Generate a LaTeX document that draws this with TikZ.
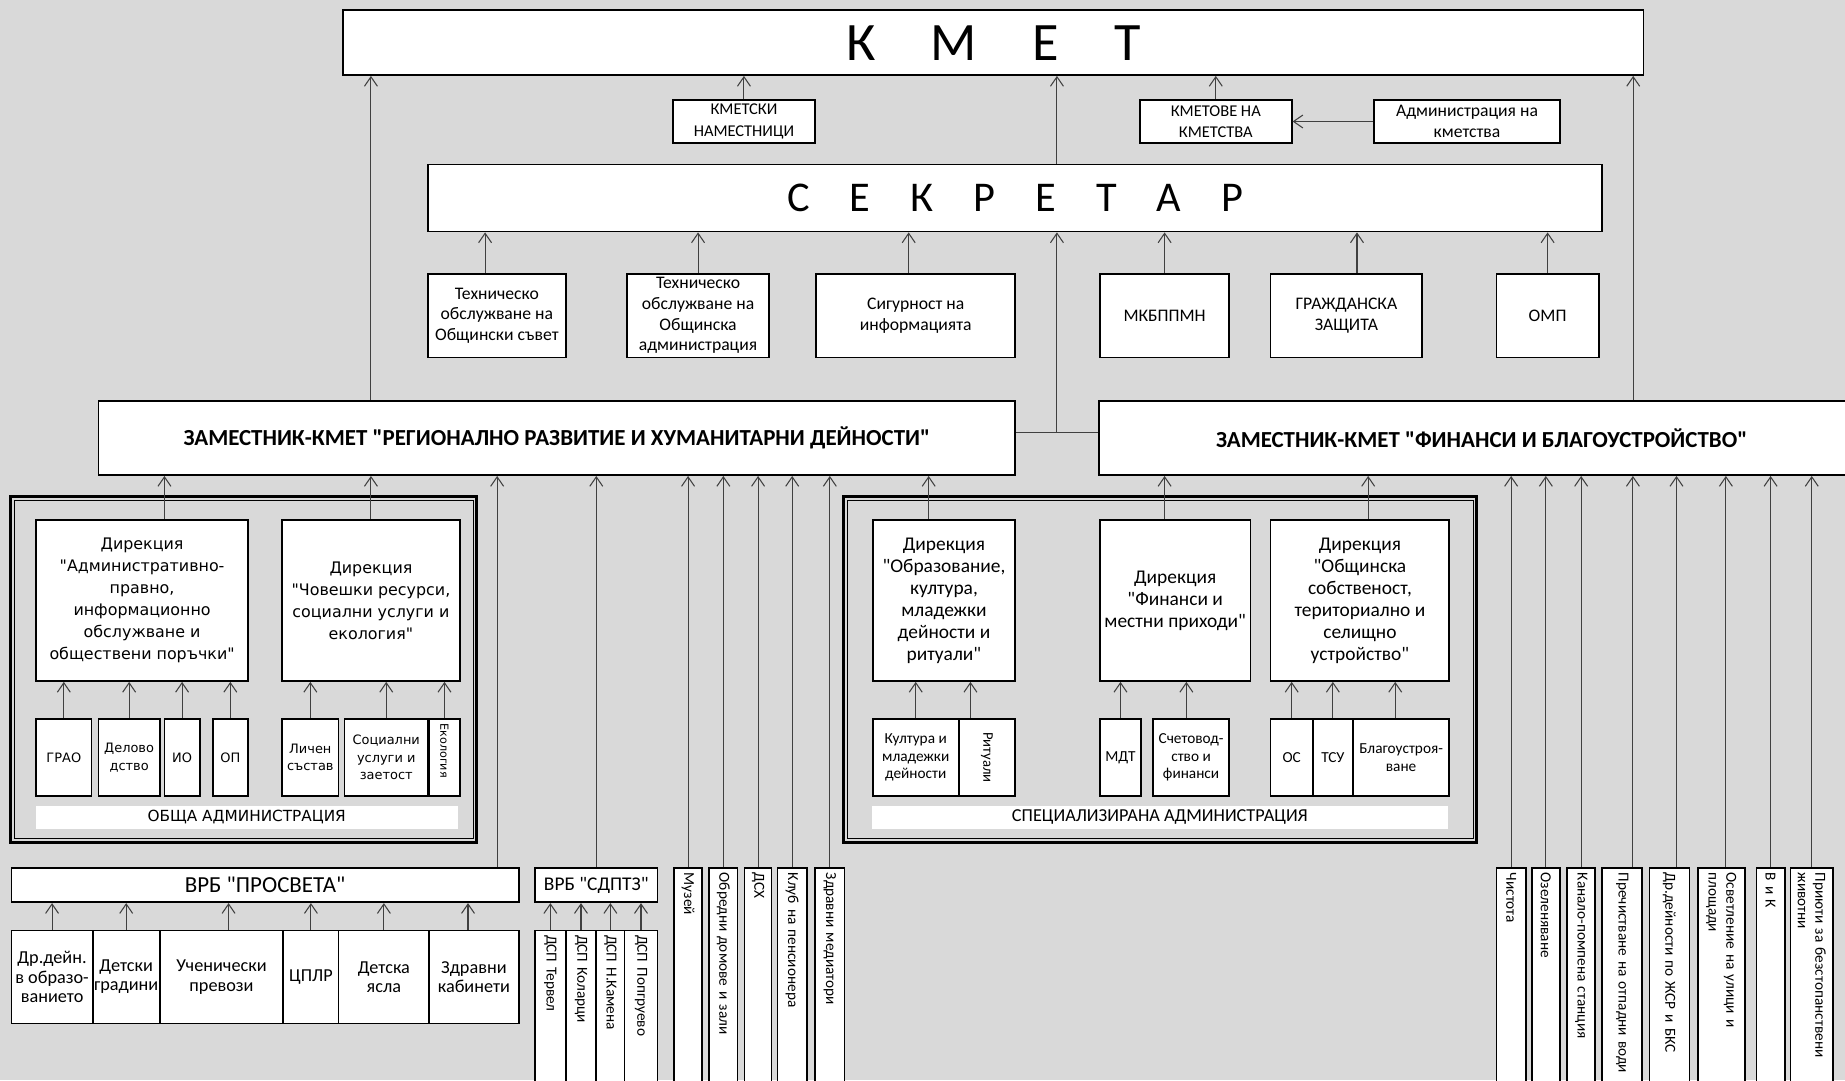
\documentclass[tikz,border=0pt]{standalone}
\usepackage{fontspec}
\setmainfont{Carlito}[Ligatures=TeXOff]
\newfontfamily\verd{DejaVu Sans}[Ligatures=TeXOff]
\usetikzlibrary{calc}
\usetikzlibrary{arrows.meta}
\tikzset{
   wh/.style 2 args={minimum width=#1pt, minimum height=#2pt},
   box/.style={draw=black, line width=1.5pt, fill=white, align=center,
      inner sep=0pt, anchor=north west},
   vbox/.style={draw=black, line width=1.5pt, fill=white, rotate=-90,
      anchor=south west, align=left, inner xsep=4pt, inner ysep=0pt,
      text width=200pt, font=\fontsize{13}{15}\selectfont},
   band/.style={fill=white, inner sep=0pt, anchor=north west},
   link/.style={draw=black!75, line width=0.9pt,
      -{Straight Barb[length=8pt,width=11pt]}},
   tline/.style={draw=black!75, line width=0.9pt},
   fkmet/.style={font=\fontsize{46}{50}\selectfont},
   fsekr/.style={font=\fontsize{36}{40}\selectfont},
   fkm/.style={font=\fontsize{14}{18}\selectfont},
   fsec/.style={font=\fontsize{15}{17.5}\selectfont},
   fzam/.style={font=\bfseries\fontsize{19.5}{22}\selectfont},
   fdirv/.style={font=\verd\fontsize{13.5}{18.7}\selectfont},
   fsmv/.style={font=\verd\fontsize{11}{15}\selectfont},
   fdir/.style={font=\fontsize{16.5}{18.7}\selectfont},
   fsm/.style={font=\fontsize{13}{15}\selectfont},
   fvrb/.style={font=\fontsize{19.5}{22}\selectfont},
   fvsub/.style={font=\fontsize{15.5}{16.5}\selectfont},
}
\begin{document}
\begin{tikzpicture}[x=1pt,y=-1pt]
\useasboundingbox (0,0) rectangle (1568,918);
\clip (0,0) rectangle (1568,918);
\fill[black!15] (0,0) rectangle (1568,918);

\node[box, wh={1105}{55}, fkmet] (kmet) at (291,8) {К\hspace{47pt}М\hspace{47pt}Е\hspace{47pt}Т};
\node[box, wh={121}{37}, fkm] (kmnam) at (571,84) {КМЕТСКИ\\НАМЕСТНИЦИ};
\node[box, wh={129}{37}, fkm] (kmkm) at (968,84) {КМЕТОВЕ НА\\КМЕТСТВА};
\node[box, wh={158}{37}, font=\fontsize{15}{18}\selectfont] (adkm) at (1167,84) {Администрация на\\кметства};
\node[box, wh={998}{57}, fsekr] (sekr) at (363,139) {С\hspace{34pt}Е\hspace{34pt}К\hspace{34pt}Р\hspace{34pt}Е\hspace{34pt}Т\hspace{34pt}А\hspace{34pt}Р};

\node[box, wh={117}{71}, fsec] (tos) at (363,232) {Техническо\\обслужване на\\Общински съвет};
\node[box, wh={121}{71}, fsec] (toa) at (532,232) {Техническо\\обслужване на\\Общинска\\администрация};
\node[box, wh={169}{71}, fsec] (sig) at (693,232) {Сигурност на\\информацията};
\node[box, wh={110}{71}, fsec] (mkb) at (934,232) {МКБППМН};
\node[box, wh={129}{71}, fsec] (grz) at (1079,232) {ГРАЖДАНСКА\\ЗАЩИТА};
\node[box, wh={87}{71}, fsec] (omp) at (1271,232) {ОМП};

\node[box, wh={779}{63}, fzam] (zkl) at (83,340) {ЗАМЕСТНИК-КМЕТ "РЕГИОНАЛНО РАЗВИТИЕ И ХУМАНИТАРНИ ДЕЙНОСТИ"};
\node[box, wh={651}{63}, fzam] (zkr) at (933,340) {ЗАМЕСТНИК-КМЕТ "ФИНАНСИ И БЛАГОУСТРОЙСТВО"};

% обща администрация
\draw[line width=2.6pt] (9,422) rectangle (405,716);
\draw[line width=0.8pt] (12,425) rectangle (402,713);
\node[box, wh={180}{137}, fdirv] (dap) at (30,441) {Дирекция\\"Административно-\\правно,\\информационно\\обслужване и\\обществени поръчки"};
\node[box, wh={151}{137}, fdirv] (dcr) at (239,441) {Дирекция\\"Човешки ресурси,\\социални услуги и\\екология"};
\node[box, wh={47}{66}, fsmv] (grao) at (30,610) {ГРАО};
\node[box, wh={52}{66}, fsmv] (delo) at (83,610) {Делово\\дство};
\node[box, wh={30}{66}, fsmv] (io) at (139,610) {ИО};
\node[box, wh={30}{66}, fsmv] (op) at (180,610) {ОП};
\node[box, wh={48}{66}, fsmv] (lichen) at (239,610) {Личен\\състав};
\node[box, wh={71}{66}, fsmv] (soc) at (292,610) {Социални\\услуги и\\заетост};
\node[vbox, text width=58pt, minimum height=26pt, font=\verd\fontsize{9.5}{11}\selectfont] (ekol) at (364,610) {Екология};
\node[band, wh={359}{19}, font=\verd\fontsize{13}{15}\selectfont] (obshta) at (30,685) {ОБЩА АДМИНИСТРАЦИЯ};

% специализирана администрация
\draw[line width=2.6pt] (717,422) rectangle (1255,716);
\draw[line width=0.8pt] (720,425) rectangle (1252,713);
\node[box, wh={121}{137}, fdir] (dobr) at (741,441) {Дирекция\\"Образование,\\култура,\\младежки\\дейности и\\ритуали"};
\node[box, wh={128}{137}, fdir] (dfin) at (934,441) {Дирекция\\"Финанси и\\местни приходи"};
\node[box, wh={152}{137}, fdir] (dos) at (1079,441) {Дирекция\\"Общинска\\собственост,\\териториално и\\селищно\\устройство"};
\node[box, wh={73}{66}, fsm] (kult) at (741,610) {Култура и\\младежки\\дейности};
\node[vbox, text width=58pt, minimum height=48pt, align=center, font=\fontsize{12.5}{14}\selectfont] (rit) at (814,610) {Ритуали};
\node[box, wh={35}{66}, fsm] (mdt) at (934,610) {МДТ};
\node[box, wh={65}{66}, fsm] (schet) at (979,610) {Счетовод-\\ство и\\финанси};
\node[box, wh={36}{66}, fsm] (os) at (1079,610) {ОС};
\node[box, wh={34}{66}, fsm] (tsu) at (1115,610) {ТСУ};
\node[box, wh={82}{66}, fsm] (blag) at (1149,610) {Благоустроя-\\ване};
\node[band, wh={489}{19}, font=\fontsize{15.5}{17}\selectfont] (spec) at (741,685) {СПЕЦИАЛИЗИРАНА АДМИНИСТРАЦИЯ};

% второстепенни разпоредители
\node[box, wh={431}{29}, fvrb] (vrbp) at (9,737) {ВРБ "ПРОСВЕТА"};
\node[box, wh={104}{29}, font=\fontsize{16.5}{18}\selectfont] (vrbs) at (454,737) {ВРБ "СДПТЗ"};
\node[box, wh={69}{79}, fvsub] (drd) at (9,790) {Др.дейн.\\в образо-\\ванието};
\node[box, wh={57}{79}, fvsub] (detg) at (78,790) {Детски\\градини};
\node[box, wh={105}{79}, fvsub] (uch) at (135,790) {Ученически\\превози};
\node[box, wh={47}{79}, fvsub] (cplr) at (240,790) {ЦПЛР};
\node[box, wh={77}{79}, fvsub] (dya) at (287,790) {Детска\\ясла};
\node[box, wh={76}{79}, fvsub] (zdk) at (364,790) {Здравни\\кабинети};
\node[vbox, minimum height=26pt] (dsp1) at (454,790) {ДСП Тервел};
\node[vbox, minimum height=26pt] (dsp2) at (480,790) {ДСП Коларци};
\node[vbox, minimum height=24pt] (dsp3) at (506,790) {ДСП Н.Камена};
\node[vbox, minimum height=28pt] (dsp4) at (530,790) {ДСП Попгруево};
\node[vbox, minimum height=24pt] (muz) at (572,737) {Музей};
\node[vbox, minimum height=24pt] (obr) at (602,737) {Обредни домове и зали};
\node[vbox, minimum height=23pt] (dsx) at (632,737) {ДСХ};
\node[vbox, minimum height=25pt] (klub) at (660,737) {Клуб на пенсионера};
\node[vbox, minimum height=25pt] (zdm) at (692,737) {Здравни медиатори};
\node[vbox, minimum height=25pt] (chist) at (1271,737) {Чистота};
\node[vbox, minimum height=24pt] (ozel) at (1301,737) {Озеленяване};
\node[vbox, minimum height=24pt] (kanal) at (1331,737) {Канало-помпена станция};
\node[vbox, minimum height=34pt] (prech) at (1361,737) {Пречистване на отпадни води};
\node[vbox, minimum height=34pt] (drjsr) at (1401,737) {Др.дейности по ЖСР и БКС};
\node[vbox, minimum height=40pt] (osv) at (1442,737) {Осветление на улици и\\площади};
\node[vbox, minimum height=24pt] (vik) at (1492,737) {В и К};
\node[vbox, minimum height=36pt] (priut) at (1521,737) {Приюти за безстопанствени\\животни};

% връзки
\draw[link] (zkl.north -| dcr.north) -- (kmet.south -| dcr.north);
\coordinate (zr) at ([xshift=455pt]zkr.north west);
\draw[link] (zr) -- (zr |- kmet.south);
\draw[link] (kmnam.north) -- (kmnam.north |- kmet.south);
\draw[link] (kmkm.north) -- (kmkm.north |- kmet.south);
\draw[link] (adkm.west) -- (kmkm.east);
\coordinate (jl) at ([yshift=4.5pt]zkl.east);
\coordinate (jr) at ([yshift=4.5pt]zkr.west);
\coordinate (jn) at ($(jl)!0.5!(jr)$);
\draw[tline] (jl) -- (jr);
\draw[link] (jn) -- (jn |- sekr.south);
\draw[link] (jn |- sekr.north) -- (jn |- kmet.south);

\draw[link] ($(tos.north)+(-10,0)$) -- ($(tos.north |- sekr.south)+(-10,0)$);
\draw[link] (toa.north) -- (toa.north |- sekr.south);
\draw[link] ($(sig.north)+(-6,0)$) -- ($(sig.north |- sekr.south)+(-6,0)$);
\draw[link] (mkb.north) -- (mkb.north |- sekr.south);
\draw[link] ($(grz.north)+(9,0)$) -- ($(grz.north |- sekr.south)+(9,0)$);
\draw[link] (omp.north) -- (omp.north |- sekr.south);

\draw[link] ($(dap.north)+(19,0)$) -- ($(dap.north |- zkl.south)+(19,0)$);
\draw[link] (dcr.north) -- (dcr.north |- zkl.south);
\draw[link] ($(dobr.north)+(-13,0)$) -- ($(dobr.north |- zkl.south)+(-13,0)$);
\draw[link] ($(dfin.north)+(-9,0)$) -- ($(dfin.north |- zkr.south)+(-9,0)$);
\draw[link] ($(dos.north)+(7,0)$) -- ($(dos.north |- zkr.south)+(7,0)$);

\draw[link] (grao.north) -- (grao.north |- dap.south);
\draw[link] (delo.north) -- (delo.north |- dap.south);
\draw[link] (io.north) -- (io.north |- dap.south);
\draw[link] (op.north) -- (op.north |- dap.south);
\draw[link] (lichen.north) -- (lichen.north |- dcr.south);
\draw[link] (soc.north) -- (soc.north |- dcr.south);
\draw[link] (ekol.west) -- (ekol.west |- dcr.south);
\draw[link] (kult.north) -- (kult.north |- dobr.south);
\draw[link] ($(rit.west)+(-14,0)$) -- ($(rit.west |- dobr.south)+(-14,0)$);
\draw[link] (mdt.north) -- (mdt.north |- dfin.south);
\draw[link] ($(schet.north)+(-4,0)$) -- ($(schet.north |- dfin.south)+(-4,0)$);
\draw[link] (os.north) -- (os.north |- dos.south);
\draw[link] (tsu.north) -- (tsu.north |- dos.south);
\draw[link] ($(blag.north)+(-5,0)$) -- ($(blag.north |- dos.south)+(-5,0)$);

\coordinate (vp) at ([xshift=-19pt]vrbp.north east);
\draw[link] (vp) -- (vp |- zkl.south);
\draw[link] (vrbs.north) -- (vrbs.north |- zkl.south);
\draw[link] (drd.north) -- (drd.north |- vrbp.south);
\draw[link] (detg.north) -- (detg.north |- vrbp.south);
\draw[link] ($(uch.north)+(6,0)$) -- ($(uch.north |- vrbp.south)+(6,0)$);
\draw[link] (cplr.north) -- (cplr.north |- vrbp.south);
\draw[link] (dya.north) -- (dya.north |- vrbp.south);
\draw[link] ($(zdk.north)+(-5,0)$) -- ($(zdk.north |- vrbp.south)+(-5,0)$);
\draw[link] (dsp1.west) -- (dsp1.west |- vrbs.south);
\draw[link] (dsp2.west) -- (dsp2.west |- vrbs.south);
\draw[link] (dsp3.west) -- (dsp3.west |- vrbs.south);
\draw[link] (dsp4.west) -- (dsp4.west |- vrbs.south);
\draw[link] (muz.west) -- (muz.west |- zkl.south);
\draw[link] (obr.west) -- (obr.west |- zkl.south);
\draw[link] (dsx.west) -- (dsx.west |- zkl.south);
\draw[link] (klub.west) -- (klub.west |- zkl.south);
\draw[link] (zdm.west) -- (zdm.west |- zkl.south);
\draw[link] (chist.west) -- (chist.west |- zkr.south);
\draw[link] (ozel.west) -- (ozel.west |- zkr.south);
\draw[link] (kanal.west) -- (kanal.west |- zkr.south);
\draw[link] ($(prech.west)+(9,0)$) -- ($(prech.west |- zkr.south)+(9,0)$);
\draw[link] ($(drjsr.west)+(6,0)$) -- ($(drjsr.west |- zkr.south)+(6,0)$);
\draw[link] ($(osv.west)+(4,0)$) -- ($(osv.west |- zkr.south)+(4,0)$);
\draw[link] (vik.west) -- (vik.west |- zkr.south);
\draw[link] (priut.west) -- (priut.west |- zkr.south);
\end{tikzpicture}
\end{document}
